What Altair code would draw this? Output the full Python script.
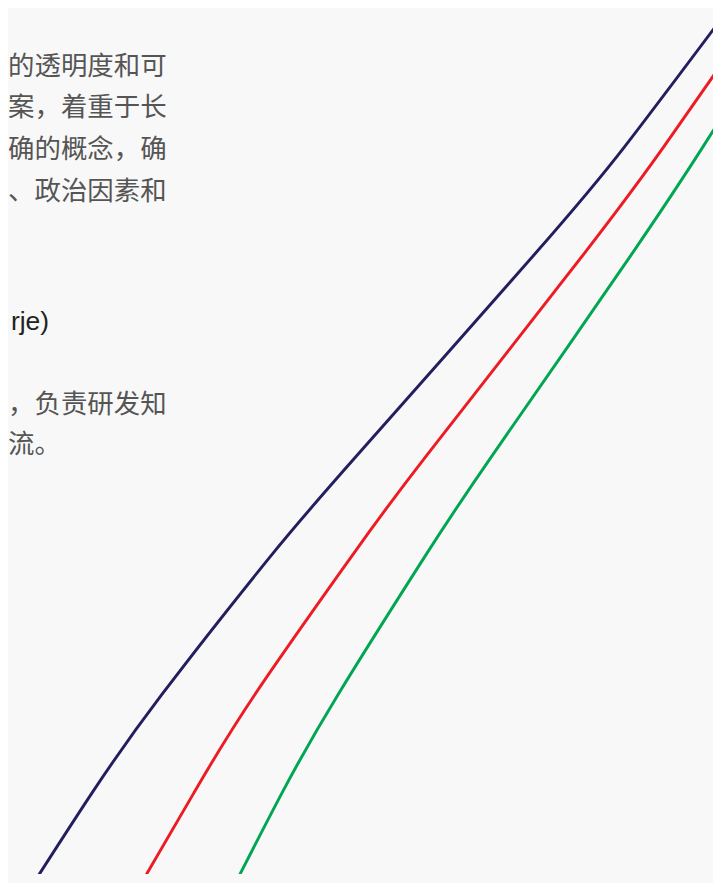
import altair as alt
import pandas as pd

# Curve samples (x, height) for the three series
navy_x = [22, 81, 152, 262, 352, 533, 625, 721]
navy_y = [0, 91, 191, 331, 436, 641, 751, 878]
red_x = [132, 185, 247, 345, 423, 583, 665, 721]
red_y = [0, 91, 191, 331, 436, 641, 751, 831]
green_x = [228, 275, 332, 420, 490, 632, 705, 721]
green_y = [0, 91, 191, 331, 436, 641, 751, 776]
series_names = ["A", "B", "C"]
series_colors = ["#231f5e", "#ed1c24", "#00a651"]

# Text fragments
para1 = ["的透明度和可", "案，着重于长", "确的概念，确", "、政治因素和"]
heading = "rje)"
para2 = ["，负责研发知", "流。"]

rows = []
for name, xs, ys in zip(series_names, [navy_x, red_x, green_x], [navy_y, red_y, green_y]):
    for i, (a, b) in enumerate(zip(xs, ys)):
        rows.append({"series": name, "x": a, "y": b, "order": i})
df = pd.DataFrame(rows)

lines = alt.Chart(df).mark_line(strokeWidth=3, clip=True, interpolate="natural").encode(
    x=alt.X("x:Q", scale=alt.Scale(domain=[10, 715], nice=False, zero=False), axis=None),
    y=alt.Y("y:Q", scale=alt.Scale(domain=[8, 883], nice=False, zero=False), axis=None),
    color=alt.Color("series:N", scale=alt.Scale(domain=series_names, range=series_colors), legend=None),
    order="order:Q",
)

layers = [lines]
cjk = "Noto Sans CJK SC"
p1_y = [51, 93, 136, 179]
for t, yy in zip(para1, p1_y):
    layers.append(alt.Chart(pd.DataFrame({"t": [t]})).mark_text(
        align="right", baseline="middle", font=cjk, fontSize=27, color="#555555"
    ).encode(x=alt.value(147), y=alt.value(yy), text="t:N"))

layers.append(alt.Chart(pd.DataFrame({"t": [heading]})).mark_text(
    align="left", baseline="middle", font="Liberation Sans", fontSize=27, color="#222222"
).encode(x=alt.value(-12), y=alt.value(312), text="t:N"))

p2_y = [396, 437]
p2_align = ["right", "left"]
p2_x = [147, -15]
for t, yy, al, xx in zip(para2, p2_y, p2_align, p2_x):
    layers.append(alt.Chart(pd.DataFrame({"t": [t]})).mark_text(
        align=al, baseline="middle", font=cjk, fontSize=27, color="#555555"
    ).encode(x=alt.value(xx), y=alt.value(yy), text="t:N"))

chart = alt.layer(*layers).properties(
    width=705, height=875, padding=0, background="#f8f8f8"
).configure_view(stroke=None)

chart.save("out.html", embed_options={"renderer": "svg", "actions": False})
